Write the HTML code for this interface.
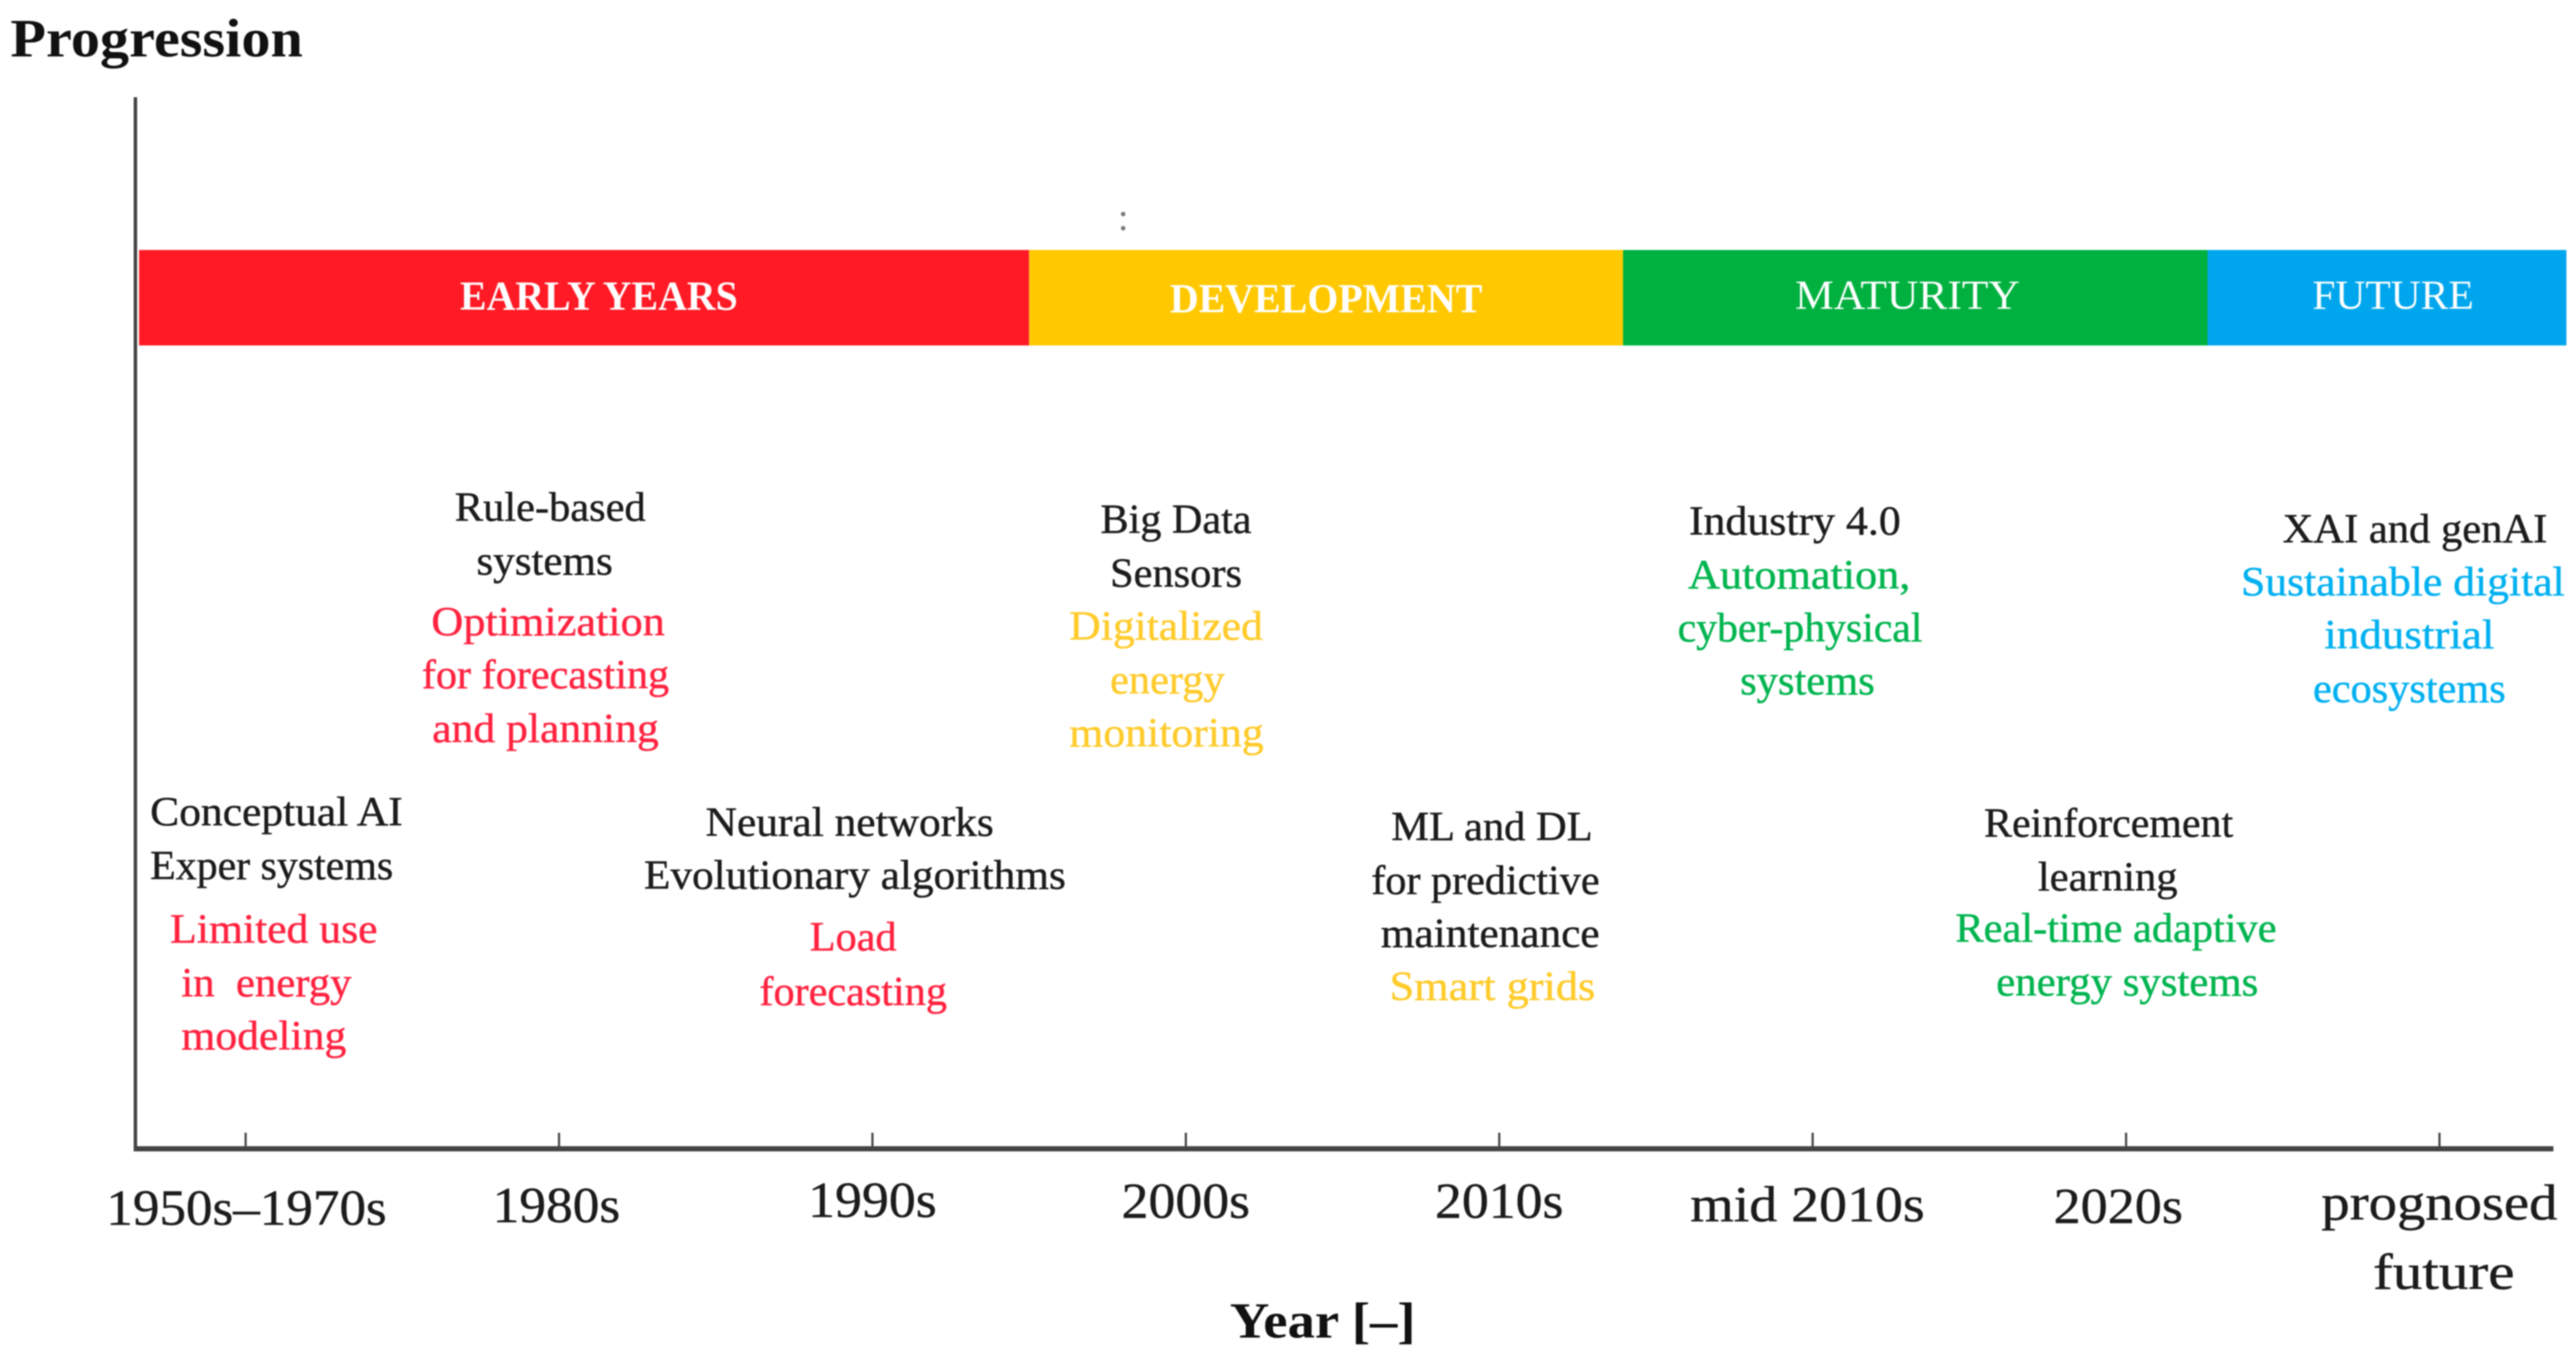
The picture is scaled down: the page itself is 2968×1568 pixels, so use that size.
<!DOCTYPE html>
<html lang="en">
<head>
<meta charset="utf-8">
<title>Progression of AI in energy systems</title>
<style>
  html, body { margin: 0; padding: 0; background: #fff; width: 2968px; height: 1568px; overflow: hidden; }
  svg { display: block; filter: blur(0.9px); }
  text { font-family: "Liberation Serif", "DejaVu Serif", serif; font-size: 48px; fill: #1c1c1c; }
  .t { font-size: 48px; stroke: #1c1c1c; stroke-width: 0.5px; }
  .red { fill: #ff2340; stroke: #ff2340; }
  .yel { fill: #ffcb2b; stroke: #ffcb2b; }
  .grn { fill: #00b44f; stroke: #00b44f; }
  .blu { fill: #00b0f0; stroke: #00b0f0; }
  .axis-title { font-weight: bold; fill: #111; }
</style>
</head>
<body>
<svg id="chart" xmlns="http://www.w3.org/2000/svg" width="2968" height="1568" viewBox="0 0 2968 1568">
  <rect x="0" y="0" width="2968" height="1568" fill="#fff"/>
  <g id="eras"></g>
  <g id="axes"></g>

  <text class="axis-title" x="12" y="65" font-size="62" style="font-size:62px" textLength="337" lengthAdjust="spacingAndGlyphs">Progression</text>
  <text class="axis-title" x="1417" y="1541" style="font-size:58px" textLength="214" lengthAdjust="spacingAndGlyphs">Year [–]</text>
  <text x="1288" y="265" style="font-size:44px;fill:#777">:</text>

  <g>
    <text class="t" x="173" y="951" textLength="291" lengthAdjust="spacingAndGlyphs">Conceptual AI</text>
    <text class="t" x="173" y="1013" textLength="280" lengthAdjust="spacingAndGlyphs">Exper systems</text>
    <text class="t red" x="196" y="1086" textLength="239" lengthAdjust="spacingAndGlyphs">Limited use</text>
    <text class="t red" x="209" y="1148" textLength="196" lengthAdjust="spacingAndGlyphs" xml:space="preserve">in  energy</text>
    <text class="t red" x="209" y="1209" textLength="190" lengthAdjust="spacingAndGlyphs">modeling</text>
  </g>

  <g>
    <text class="t" x="524" y="600" textLength="220" lengthAdjust="spacingAndGlyphs">Rule-based</text>
    <text class="t" x="549" y="662" textLength="157" lengthAdjust="spacingAndGlyphs">systems</text>
    <text class="t red" x="497" y="732" textLength="269" lengthAdjust="spacingAndGlyphs">Optimization</text>
    <text class="t red" x="486" y="793" textLength="285" lengthAdjust="spacingAndGlyphs">for forecasting</text>
    <text class="t red" x="498" y="855" textLength="261" lengthAdjust="spacingAndGlyphs">and planning</text>
  </g>

  <g>
    <text class="t" x="813" y="963" textLength="332" lengthAdjust="spacingAndGlyphs">Neural networks</text>
    <text class="t" x="742" y="1024" textLength="486" lengthAdjust="spacingAndGlyphs">Evolutionary algorithms</text>
    <text class="t red" x="933" y="1095" textLength="100" lengthAdjust="spacingAndGlyphs">Load</text>
    <text class="t red" x="875" y="1158" textLength="216" lengthAdjust="spacingAndGlyphs">forecasting</text>
  </g>

  <g>
    <text class="t" x="1268" y="614" textLength="174" lengthAdjust="spacingAndGlyphs">Big Data</text>
    <text class="t" x="1279" y="676" textLength="152" lengthAdjust="spacingAndGlyphs">Sensors</text>
    <text class="t yel" x="1232" y="737" textLength="223" lengthAdjust="spacingAndGlyphs">Digitalized</text>
    <text class="t yel" x="1279" y="799" textLength="132" lengthAdjust="spacingAndGlyphs">energy</text>
    <text class="t yel" x="1232" y="860" textLength="224" lengthAdjust="spacingAndGlyphs">monitoring</text>
  </g>

  <g>
    <text class="t" x="1603" y="968" textLength="232" lengthAdjust="spacingAndGlyphs">ML and DL</text>
    <text class="t" x="1580" y="1030" textLength="263" lengthAdjust="spacingAndGlyphs">for predictive</text>
    <text class="t" x="1591" y="1091" textLength="252" lengthAdjust="spacingAndGlyphs">maintenance</text>
    <text class="t yel" x="1601" y="1152" textLength="237" lengthAdjust="spacingAndGlyphs">Smart grids</text>
  </g>

  <g>
    <text class="t" x="1946" y="616" textLength="244" lengthAdjust="spacingAndGlyphs">Industry 4.0</text>
    <text class="t grn" x="1945" y="678" textLength="256" lengthAdjust="spacingAndGlyphs">Automation,</text>
    <text class="t grn" x="1933" y="739" textLength="282" lengthAdjust="spacingAndGlyphs">cyber-physical</text>
    <text class="t grn" x="2005" y="800" textLength="155" lengthAdjust="spacingAndGlyphs">systems</text>
  </g>

  <g>
    <text class="t" x="2286" y="964" textLength="287" lengthAdjust="spacingAndGlyphs">Reinforcement</text>
    <text class="t" x="2348" y="1026" textLength="161" lengthAdjust="spacingAndGlyphs">learning</text>
    <text class="t grn" x="2253" y="1085" textLength="370" lengthAdjust="spacingAndGlyphs">Real-time adaptive</text>
    <text class="t grn" x="2300" y="1147" textLength="302" lengthAdjust="spacingAndGlyphs">energy systems</text>
  </g>

  <g>
    <text class="t" x="2630" y="625" textLength="305" lengthAdjust="spacingAndGlyphs">XAI and genAI</text>
    <text class="t blu" x="2582" y="686" textLength="373" lengthAdjust="spacingAndGlyphs">Sustainable digital</text>
    <text class="t blu" x="2678" y="747" textLength="196" lengthAdjust="spacingAndGlyphs">industrial</text>
    <text class="t blu" x="2665" y="809" textLength="222" lengthAdjust="spacingAndGlyphs">ecosystems</text>
  </g>
</svg>

<script>
// Chart data
const categories = ['1950s–1970s', '1980s', '1990s', '2000s', '2010s', 'mid 2010s', '2020s', 'prognosed\nfuture'];
const eraNames = ['EARLY YEARS', 'DEVELOPMENT', 'MATURITY', 'FUTURE'];
const eraStarts = [-0.34, 2.5, 4.395, 6.26];   // in category-axis units
const eraEnds = [2.5, 4.395, 6.26, 7.405];

// Axis function and presentation (not data)
const NS = 'http://www.w3.org/2000/svg';
const xOf = function (u) { return 283 + u * 361.1; };
const eraColors = { 'EARLY YEARS': '#ff1a25', 'DEVELOPMENT': '#ffc800', 'MATURITY': '#00b140', 'FUTURE': '#00a6ed' };
const eraLabelFit = {
  'EARLY YEARS': { dx: 17, w: 320, y: 357, weight: 'bold' },
  'DEVELOPMENT': { dx: 0, w: 360, y: 360, weight: 'bold' },
  'MATURITY': { dx: -9, w: 259, y: 356, weight: 'normal' },
  'FUTURE': { dx: 7, w: 186, y: 356, weight: 'normal' }
};
const tickLabelFit = {
  '1950s–1970s': { dx: 1, w: 323, y: 1411 },
  '1980s': { dx: -3, w: 147, y: 1408 },
  '1990s': { dx: 0, w: 148, y: 1402 },
  '2000s': { dx: 0, w: 148, y: 1403 },
  '2010s': { dx: 0, w: 148, y: 1403 },
  'mid 2010s': { dx: -6, w: 270, y: 1407 },
  '2020s': { dx: -9, w: 149, y: 1409 },
  'prognosed': { dx: 0, w: 272, y: 1405 },
  'future': { dx: 5, w: 163, y: 1485 }
};

const svgEl = function (tag, attrs, parent) {
  const el = document.createElementNS(NS, tag);
  Object.keys(attrs).forEach(function (k) { el.setAttribute(k, attrs[k]); });
  parent.appendChild(el);
  return el;
};

const erasGroup = document.getElementById('eras');
eraNames.forEach(function (name, i) {
  const x0 = xOf(eraStarts[i]);
  const x1 = xOf(eraEnds[i]);
  const band = svgEl('rect', { x: x0, y: 288, width: x1 - x0, height: 110, fill: eraColors[name] || '#888' }, erasGroup);
  
  
  const fit = eraLabelFit[name] || { dx: 0, w: 250, y: 357, weight: 'normal' };
  const label = svgEl('text', {
    x: (x0 + x1) / 2 + fit.dx, y: fit.y, 'text-anchor': 'middle',
    textLength: fit.w, lengthAdjust: 'spacingAndGlyphs',
    style: 'fill:#fff;font-size:48px;font-weight:' + fit.weight
  }, erasGroup);
  
  
  label.textContent = name;
});

const axesGroup = document.getElementById('axes');
const yAxis = svgEl('line', { x1: 156, y1: 112, x2: 156, y2: 1326, stroke: '#444', 'stroke-width': 4 }, axesGroup);


const xAxis = svgEl('line', { x1: 154, y1: 1323.5, x2: 2942, y2: 1323.5, stroke: '#444', 'stroke-width': 6 }, axesGroup);



categories.forEach(function (cat, i) {
  const x = xOf(i);
  const tick = svgEl('line', { x1: x, y1: 1305, x2: x, y2: 1323, stroke: '#444', 'stroke-width': 2.5 }, axesGroup);
  
  
  cat.split('\n').forEach(function (line, j) {
    const fit = tickLabelFit[line] || { dx: 0, w: null, y: 1405 + j * 79 };
    const attrs = { x: x + fit.dx, y: fit.y, 'text-anchor': 'middle', style: 'font-size:58px;stroke:#1c1c1c;stroke-width:0.5px' };
    if (fit.w) { attrs.textLength = fit.w; attrs.lengthAdjust = 'spacingAndGlyphs'; }
    const label = svgEl('text', attrs, axesGroup);
    
    
    label.textContent = line;
  });
});
</script>
</body>
</html>
